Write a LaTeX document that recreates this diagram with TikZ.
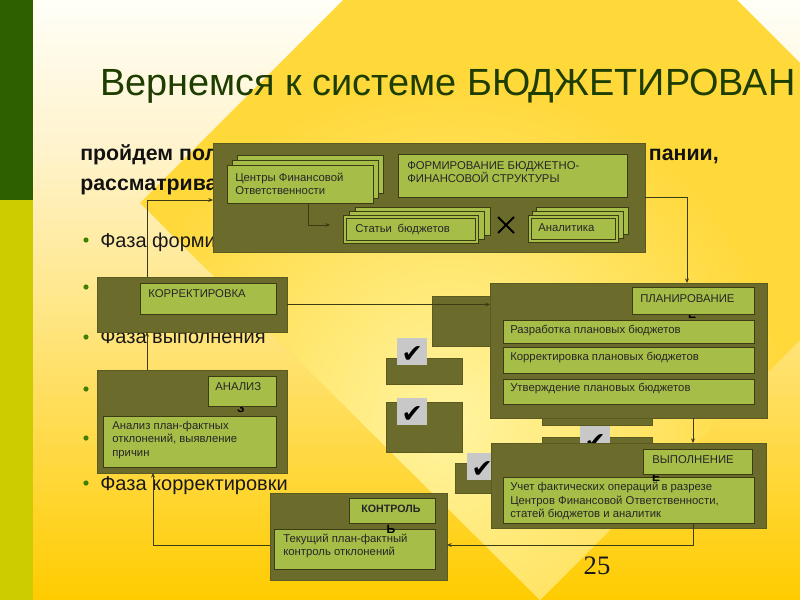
\documentclass[tikz,border=0pt]{standalone}
\usepackage{fontspec}
\setmainfont{Liberation Sans}
\newfontfamily\djv{DejaVu Sans}
\newfontfamily\lserif{Liberation Serif}
\usetikzlibrary{arrows.meta,calc}

\definecolor{olive}{HTML}{6B6B2B}
\definecolor{oliveline}{HTML}{5A5A22}
\definecolor{lgreen}{HTML}{A6BE48}
\definecolor{boxline}{HTML}{3C3C14}
\definecolor{ttl}{HTML}{1E3D00}
\definecolor{stripA}{HTML}{2F6000}
\definecolor{stripB}{HTML}{CCCC00}
\definecolor{bgA}{HTML}{FFFFF8}
\definecolor{bgB}{HTML}{FFF3CC}
\definecolor{bgC}{HTML}{FFE78A}
\definecolor{bgD}{HTML}{FFCC00}
\definecolor{gold}{HTML}{FFD83A}
\definecolor{pale}{HTML}{FFF4A0}
\definecolor{txt}{HTML}{262626}
\definecolor{bulletc}{HTML}{3F8000}
\definecolor{ckgray}{HTML}{C8C8C8}

\pgfdeclareverticalshading{bgv}{100bp}{color(0bp)=(bgD); color(25bp)=(bgD); color(50bp)=(bgC); color(62.5bp)=(bgB); color(75bp)=(bgA); color(100bp)=(bgA)}

\newcommand\mkbox[6]{\node[#1, anchor=north west, minimum width={(#4-#2)*0.75pt}, minimum height={(#5-#3)*0.75pt}] (#6) at (#2,#3) {};}

\tikzset{
  olivebox/.style={fill=olive, draw=oliveline, line width=0.6pt, inner sep=0pt, outer sep=0pt},
  gbox/.style={fill=lgreen, draw=boxline, line width=0.75pt, inner sep=0pt, outer sep=0pt},
  lbl/.style={font=\fontsize{8.5}{10}\selectfont, text=txt, inner sep=0pt, anchor=west, align=left},
  conn/.style={draw=boxline, line width=0.6pt, -{Stealth[length=3.5pt,width=3pt]}},
  frag/.style={font=\bfseries\fontsize{9}{10}\selectfont, text=black, inner sep=0pt, anchor=base},
  ckmark/.style={fill=ckgray, inner sep=0pt, anchor=north west, minimum width=22.5pt, minimum height=20pt, text height=16pt, text depth=0pt, font=\djv\fontsize{19}{19}\selectfont, text=black},
  bigtxt/.style={font=\fontsize{15}{18}\selectfont, text=black!90, inner sep=0pt, anchor=base west},
  subtxt/.style={font=\bfseries\fontsize{16}{18}\selectfont, text=black!93, inner sep=0pt},
  dotb/.style={fill=bulletc, draw=none}
}

\begin{document}
\begin{tikzpicture}[x=0.75pt,y=-0.75pt]
\useasboundingbox (0,0) rectangle (800,600);
\clip (0,0) rectangle (800,600);

% ---------- background ----------
\shade[shading=bgv] (33,0) rectangle (800,600);
\begin{scope}
  \clip (343,0) -- (737,0) -- (800,63) -- (800,340) -- (540,600) -- (140,203) -- cycle;
  \fill[gold] (0,0) rectangle (800,600);
  \shade[inner color=pale, outer color=gold] (450,420) circle (340);
\end{scope}
\fill[stripA] (0,0) rectangle (33,200);
\fill[stripB] (0,200) rectangle (33,600);

% ---------- slide texts ----------
\node[anchor=base west, font=\fontsize{28.4}{30}\selectfont, text=ttl, inner sep=0pt] (title) at (100,95) {Вернемся к системе БЮДЖЕТИРОВАН};
\node[subtxt, anchor=base west] (sub1) at (80,160) {пройдем пол};
\node[subtxt, anchor=base east] (sub1r) at (719,160) {пании,};
\node[subtxt, anchor=base west] (sub2) at (80,190) {рассматрива};

\foreach \yy in {240,287,337,389,438,483} \fill[dotb] (86,\yy) circle (2.6);
\node[bigtxt] (ph1) at (100,247) {Фаза форми};
\node[bigtxt] (ph3) at (100,343) {Фаза выполнения};
\node[bigtxt] (ph6) at (100,490) {Фаза корректировки};

% ---------- decorative check boxes (behind) ----------
\mkbox{olivebox}{432}{296}{492}{346}{dk1}
\mkbox{olivebox}{386}{358}{462}{384}{dk2}
\mkbox{olivebox}{386}{402}{462}{452}{dk3}
\mkbox{olivebox}{455}{463}{495}{493}{dk4}
\mkbox{olivebox}{542}{380}{652}{425}{dk5}
\mkbox{olivebox}{542}{437}{652}{470}{dk6}
\node[ckmark] (ck1) at (397,338) {✔};
\node[ckmark] (ck2) at (397,398) {✔};
\node[ckmark] (ck3) at (467,453) {✔};
\node[ckmark] (ck4) at (580,426) {✔};

% ---------- formation block ----------
\mkbox{olivebox}{213}{143}{645}{252}{form}
\mkbox{gbox}{237}{155}{383}{193}{cfo3}
\mkbox{gbox}{232}{160}{378}{198}{cfo2}
\mkbox{gbox}{227}{165}{373}{203}{cfo}
\node[lbl] (tcfo) at (235,184) {Центры Финансовой\\Ответственности};
\mkbox{gbox}{398}{154}{627}{197}{fstr}
\node[lbl] (tfstr) at (407,172) {ФОРМИРОВАНИЕ БЮДЖЕТНО-\\ФИНАНСОВОЙ СТРУКТУРЫ};
\mkbox{gbox}{355}{207}{490}{235}{stat3}
\mkbox{gbox}{349}{211}{484}{239}{stat2}
\mkbox{gbox}{343}{215}{478}{243}{stat}
\draw[boxline, line width=0.5pt] ($(stat.north west)+(3,3)$) rectangle ($(stat.south east)+(-3,-3)$);
\node[lbl] (tstat) at (355,229) {Статьи\enspace бюджетов};
\mkbox{gbox}{536}{207}{628}{234}{an3}
\mkbox{gbox}{532}{211}{623}{238}{an2}
\mkbox{gbox}{528}{215}{618}{242}{an}
\draw[boxline, line width=0.5pt] ($(an.north west)+(3,3)$) rectangle ($(an.south east)+(-3,-3)$);
\node[lbl] (tan) at (538,228) {Аналитика};
\draw[black, line width=1.4pt] (498,217) -- (514,233) (498,233) -- (514,217);

% ---------- correction ----------
\mkbox{olivebox}{97}{277}{287}{332}{korr}
\mkbox{gbox}{140}{283}{276}{314}{korrl}
\node[lbl] (tkorr) at (148,294) {КОРРЕКТИРОВКА};

% ---------- analysis ----------
\mkbox{olivebox}{97}{370}{287}{473}{anal}
\mkbox{gbox}{103}{416}{276}{467}{analc}
\node[lbl] (tanalc) at (112,440) {Анализ план-фактных\\отклонений, выявление\\причин};
\node[frag] (fz) at (241,412) {З};
\mkbox{gbox}{208}{376}{276}{406}{anall}
\node[lbl] (tanall) at (215,387) {АНАЛИЗ};

% ---------- planning ----------
\mkbox{olivebox}{490}{283}{767}{418}{plan}
\mkbox{gbox}{503}{320}{754}{343}{p1}
\node[lbl] (tp1) at (510,331) {Разработка плановых бюджетов};
\mkbox{gbox}{503}{347}{754}{373}{p2}
\node[lbl] (tp2) at (510,358) {Корректировка плановых бюджетов};
\mkbox{gbox}{503}{379}{754}{404}{p3}
\node[lbl] (tp3) at (510,389) {Утверждение плановых бюджетов};
\node[frag] (fe1) at (692,318.5) {Е};
\mkbox{gbox}{632}{287}{754}{314}{planl}
\node[lbl] (tplanl) at (640,299) {ПЛАНИРОВАНИЕ};

% ---------- execution ----------
\mkbox{olivebox}{491}{443}{766}{528}{exec}
\mkbox{gbox}{503}{477}{754}{523}{uchet}
\node[lbl] (tuchet) at (510,501) {Учет фактических операций в разрезе\\Центров Финансовой Ответственности,\\статей бюджетов и аналитик};
\node[frag] (fe2) at (656,481) {Е};
\mkbox{gbox}{643}{449}{752}{474}{execl}
\node[lbl] (texecl) at (652,460) {ВЫПОЛНЕНИЕ};

% ---------- control ----------
\mkbox{olivebox}{270}{493}{447}{580}{kontr}
\mkbox{gbox}{274}{529}{435}{569}{kontrc}
\node[lbl] (tkontrc) at (283,546) {Текущий план-фактный\\контроль отклонений};
\node[frag] (fsoft) at (391,533) {Ь};
\mkbox{gbox}{349}{498}{435}{523}{kontrl}
\node[lbl, font=\bfseries\fontsize{8}{10}\selectfont, text=black!85] (tkontrl) at (361,509) {КОНТРОЛЬ};

% ---------- page number ----------
\node[font=\lserif\fontsize{20}{20}\selectfont, text=black!90, inner sep=0pt] (pg) at (597,566) {25};

% ---------- connectors ----------
\draw[conn] ($(cfo.south)+(8,0)$) |- ($(stat.west)+(-13,-4)$);
\draw[conn] ($(korr.north)+(-45,0)$) |- ($(form.west)+(0,2.5)$);
\draw[conn] ($(anal.north)+(-45,0)$) -- ($(korr.south)+(-45,0)$);
\draw[conn] (korr.east) -- (korr.east -| plan.west);
\draw[conn] (form.east) -| ($(plan.north)+(58.5,0)$);
\draw[conn] ($(plan.south)+(64.5,0)$) -- ($(exec.north)+(64.5,0)$);
\draw[conn] ($(uchet.south)+(64.5,0)$) |- ($(kontr.east)+(0,8.5)$);
\draw[conn] ($(kontr.west)+(0,8.5)$) -| ($(anal.south)+(-39,0)$);
\end{tikzpicture}
\end{document}
